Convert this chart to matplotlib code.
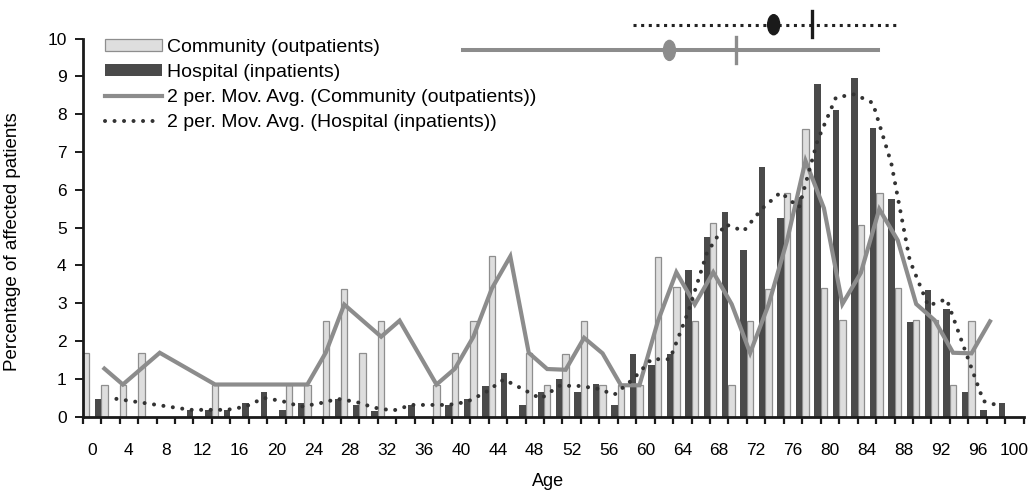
import numpy as np
import matplotlib.pyplot as plt
from matplotlib.patches import Ellipse

nan = np.nan

# one category every 2 years, bars sit on the tick marks
age_groups = np.arange(0, 102, 2)

community = [1.69, 0.85, 0.85, 1.69, nan, nan, nan, 0.85, nan, nan,
             nan, 0.85, 0.85, 2.54, 3.39, 1.69, 2.54, nan, nan, 0.85,
             1.69, 2.54, 4.24, nan, 1.69, 0.83, 1.65, 2.52, 0.83, 0.83,
             0.83, 4.22, 3.42, 2.52, 5.12, 0.83, 2.54, 3.39, 5.92, 7.62,
             3.41, 2.55, 5.06, 5.92, 3.41, 2.55, 2.55, 0.83, 2.52, nan,
             nan]

hospital = [nan, 0.47, nan, nan, nan, nan, 0.18, 0.18, 0.18, 0.35,
            0.64, 0.18, 0.35, nan, 0.47, 0.31, 0.16, nan, 0.31, nan,
            0.31, 0.47, 0.81, 1.16, 0.31, 0.64, 0.99, 0.64, 0.86, 0.31,
            1.67, 1.37, 1.67, 3.89, 4.76, 5.42, 4.40, 6.61, 5.26, 5.81,
            8.79, 8.10, 8.96, 7.64, 5.77, 2.51, 3.36, 2.86, 0.64, 0.18,
            0.35]

tick_labels = [str(a) for a in range(0, 101, 4)]

# range / mean / median markers drawn above the plot
comm_range = [41.2, 86.2]
comm_mean = 63.6
comm_median = 70.8
hosp_range = [59.6, 88.2]
hosp_mean = 74.9
hosp_median = 79.1

LIGHT = "#dedede"
LIGHT_EDGE = "#8e8e8e"
DARK = "#4a4a4a"
GREY_LINE = "#8c8c8c"
DOTS = "#333333"


def moving_avg(x, y):
    # Excel style 2 period moving average: blanks are left out of the window
    y = np.asarray(y, float)
    first = np.flatnonzero(~np.isnan(y))[0]
    xs, ys = [], []
    for i in range(first + 1, len(y)):
        win = y[i - 1:i + 1]
        win = win[~np.isnan(win)]
        if len(win):
            xs.append(x[i])
            ys.append(win.mean())
    return np.array(xs), np.array(ys)


plt.rcParams["font.family"] = ["Liberation Sans", "DejaVu Sans"]

fig = plt.figure(figsize=(10.34, 4.96), dpi=100)
ax = fig.add_axes([0.080, 0.160, 0.910, 0.762])

bw = 0.7
b1 = ax.bar(age_groups, community, width=bw, align="edge", color=LIGHT,
            edgecolor=LIGHT_EDGE, linewidth=0.9, label="Community (outpatients)", zorder=2)
b2 = ax.bar(age_groups - bw, hospital, width=bw, align="edge", color=DARK,
            linewidth=0, label="Hospital (inpatients)", zorder=2)

cx, cy = moving_avg(age_groups, community)
hx, hy = moving_avg(age_groups, hospital)
l1, = ax.plot(cx + bw / 2, cy, color=GREY_LINE, lw=3.0, solid_joinstyle="miter",
              label="2 per. Mov. Avg. (Community (outpatients))", zorder=3)
l2, = ax.plot(hx - bw / 2, hy, color=DOTS, lw=2.9, linestyle=(0, (0.01, 2.35)),
              dash_capstyle="round", label="2 per. Mov. Avg. (Hospital (inpatients))", zorder=4)

# summary markers
ax.plot(hosp_range, [10.37, 10.37], color="#222222", lw=2.2,
        linestyle=(0, (1, 1.5)), clip_on=False, zorder=5)
ax.add_patch(Ellipse((hosp_mean, 10.37), 1.3, 0.53, color="#1a1a1a",
                     clip_on=False, zorder=6))
ax.plot([hosp_median, hosp_median], [10.05, 10.72], color="#1a1a1a", lw=2.4,
        clip_on=False, zorder=6)
ax.plot(comm_range, [9.69, 9.69], color=GREY_LINE, lw=2.9, clip_on=False, zorder=5)
ax.add_patch(Ellipse((comm_mean, 9.69), 1.3, 0.53, color=GREY_LINE,
                     clip_on=False, zorder=6))
ax.plot([comm_median, comm_median], [9.36, 10.05], color=GREY_LINE, lw=2.4,
        clip_on=False, zorder=6)

ax.set_xlim(0, 102)
ax.set_ylim(0, 10)
ax.set_yticks(range(0, 11))
ax.set_xticks(np.arange(0, 103, 2))
ax.set_xticklabels([])
ax.set_xticks(np.arange(0, 101, 4) + 1, minor=True)
ax.set_xticklabels(tick_labels, minor=True)

ax.tick_params(axis="x", which="major", direction="out", length=5, width=1.6, color="#1a1a1a")
ax.tick_params(axis="x", which="minor", length=0, pad=19, labelsize=12.5)
ax.tick_params(axis="y", direction="out", length=5.5, width=1.4, pad=6,
               labelsize=12.5, color="#1a1a1a")

for s in ["top", "right"]:
    ax.spines[s].set_visible(False)
for s in ["left", "bottom"]:
    ax.spines[s].set_linewidth(2.0)
    ax.spines[s].set_color("#1a1a1a")

ax.set_ylabel("Percentage of affected patients", fontsize=13.5)
ax.yaxis.set_label_coords(-0.066, 0.462)
ax.set_xlabel("Age", fontsize=13)
ax.xaxis.set_label_coords(0.495, -0.15)

ax.legend(handles=[b1, b2, l1, l2], loc="upper left", bbox_to_anchor=(0.024, 1.0),
          frameon=False, fontsize=14, handlelength=2.9, handletextpad=0.26,
          handleheight=0.55, labelspacing=0.42, borderpad=0, borderaxespad=0)

fig.savefig("out.png", dpi=100)
plt.close(fig)
